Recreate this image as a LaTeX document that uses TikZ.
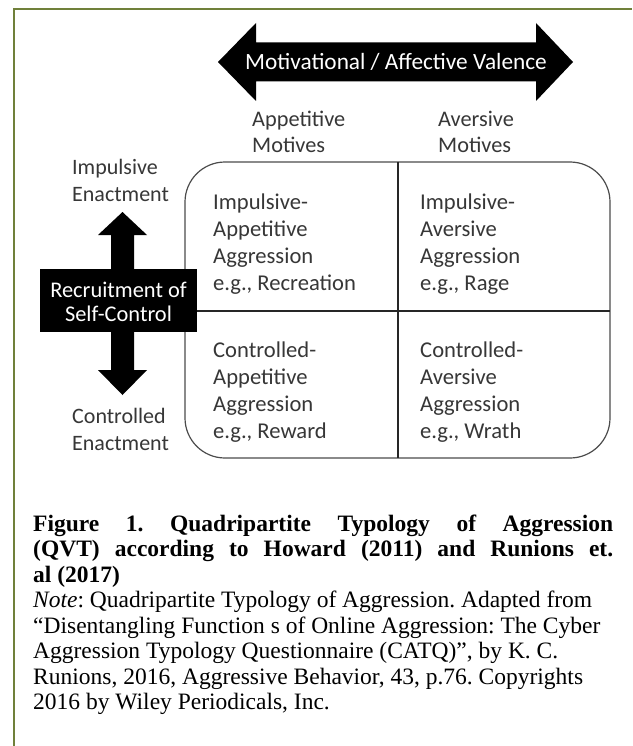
\documentclass[tikz,border=0pt]{standalone}
\usepackage{fontspec}
\setmainfont{Liberation Serif}
\newfontfamily\carl{Carlito}
\definecolor{olivebd}{RGB}{112,128,58}
\definecolor{txtgray}{RGB}{55,55,55}
\tikzset{
  lab/.style={inner sep=0pt, text=txtgray, font=\carl\fontsize{22}{27}\selectfont, anchor=base west},
  quad/.style={lab, font=\carl\fontsize{22.6}{27}\selectfont},
  whitelab/.style={inner sep=0pt, text=white, font=\carl\fontsize{22}{24}\selectfont},
  captext/.style={inner sep=0pt, anchor=base west, font=\fontsize{23.5}{25.5}\selectfont},
  divider/.style={draw=black!85, line width=1.4pt},
}
\newcommand{\stackL}[1]{\begin{tabular}[t]{@{}l@{}}#1\end{tabular}}
\newcommand{\stackC}[1]{\begin{tabular}[t]{@{}c@{}}#1\end{tabular}}
\frenchspacing
\begin{document}
\begin{tikzpicture}[x=1pt,y=-1pt]
\useasboundingbox (0,0) rectangle (632,746);
\fill[white] (0,0) rectangle (632,746);
% frame
\draw[olivebd, line width=2.5pt] (14,746) -- (14,9) -- (632,9);

% horizontal double arrow
\fill[black] (218,62) -- (256,23) -- (256,42.5) -- (536,42.5) -- (536,23) -- (573,62)
  -- (536,101) -- (536,81.5) -- (256,81.5) -- (256,101) -- cycle;
\node[whitelab, font=\carl\fontsize{23.3}{26}\selectfont] (valence) at (396,62) {Motivational / Affective Valence};

% column headings
\node[lab, font=\carl\fontsize{22.3}{25.5}\selectfont] (appmot) at (252,127) {\stackL{Appetitive\\Motives}};
\node[lab, font=\carl\fontsize{22.3}{25.5}\selectfont] (avmot) at (438,127) {\stackL{Aversive\\Motives}};

% quadrant frame
\draw[draw=black!70, line width=1.2pt, rounded corners=40pt] (185,162) rectangle (610,458);
\draw[divider] (398,162) -- (398,458);
\draw[divider] (185,311) -- (610,311);

% quadrant texts
\node[quad] (q1) at (213,209) {\stackL{Impulsive-\\Appetitive\\Aggression\\e.g., Recreation}};
\node[quad] (q2) at (420,209) {\stackL{Impulsive-\\Aversive\\Aggression\\e.g., Rage}};
\node[quad] (q3) at (213,357) {\stackL{Controlled-\\Appetitive\\Aggression\\e.g., Reward}};
\node[quad] (q4) at (420,357) {\stackL{Controlled-\\Aversive\\Aggression\\e.g., Wrath}};

% vertical double arrow
\fill[black] (122.5,212) -- (147,235) -- (134,235) -- (134,370) -- (147,370) -- (122.5,395)
  -- (98,370) -- (111,370) -- (111,235) -- (98,235) -- cycle;
\fill[black] (40,269) rectangle (197,332);
\node[whitelab, anchor=base, font=\carl\fontsize{22.4}{24}\selectfont] (recruit) at (118.5,297) {\stackC{Recruitment of\\Self-Control}};

% row labels
\node[lab] (impen) at (72,175) {\stackL{Impulsive\\Enactment}};
\node[lab] (conen) at (72,423) {\stackL{Controlled\\Enactment}};

% caption
\node[captext, font=\bfseries\fontsize{23.5}{25.5}\selectfont] (captitle) at (33,531)
  {\begin{tabular}[t]{@{}l@{}}\makebox[580pt][s]{Figure 1. Quadripartite Typology of Aggression}\\
   \makebox[580pt][s]{(QVT) according to Howard (2011) and Runions et.}\\
   al (2017)\end{tabular}};
\node[captext] (note) at (33,607.5)
  {\stackL{\textit{Note}: Quadripartite Typology of Aggression. Adapted from\\
  “Disentangling Function s of Online Aggression: The Cyber\\
  Aggression Typology Questionnaire (CATQ)”, by K. C.\\
  Runions, 2016, Aggressive Behavior, 43, p.76. Copyrights\\
  2016 by Wiley Periodicals, Inc.}};
\end{tikzpicture}
\end{document}
